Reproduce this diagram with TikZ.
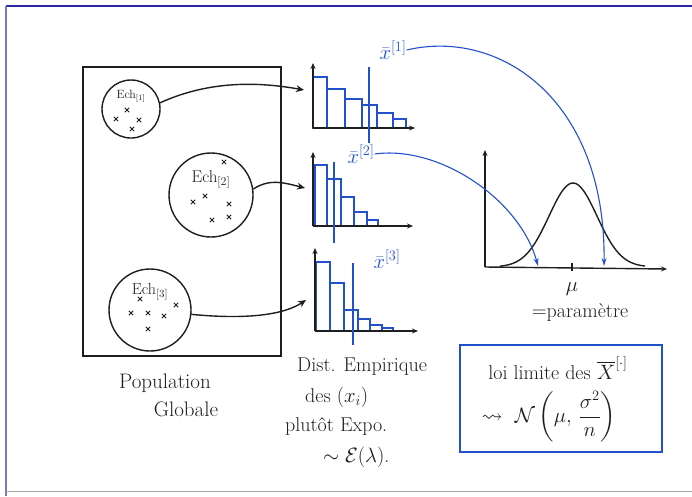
\documentclass[tikz,border=0pt]{standalone}
\usepackage{amsmath,amssymb}
\usetikzlibrary{arrows.meta}
\definecolor{pen}{RGB}{30,30,30}
\definecolor{bpen}{RGB}{35,80,205}
\definecolor{frameblue}{RGB}{40,40,160}
\definecolor{framelav}{RGB}{120,120,190}
\begin{document}
\begin{tikzpicture}[x=1pt,y=-1pt,
  ink/.style={line width=1.4pt,draw=pen},
  bink/.style={line width=1.1pt,draw=bpen},
  axis/.style={ink,-{Stealth[length=6pt,width=5pt]}},
  link/.style={ink,-{Stealth[length=8pt,width=7pt]}},
  blink/.style={bink,-{Stealth[length=8pt,width=5pt]}},
  smp/.style={circle,ink,inner sep=0pt},
  lab/.style={text=pen,inner sep=0pt},
  blab/.style={text=bpen,inner sep=0pt,font=\fontsize{22}{24}\selectfont},
  hand/.style={text=pen,inner sep=1pt,font=\fontsize{20}{22}\selectfont},
  xmark/.pic={\draw[line width=0.9pt,draw=pen] (-2.2,-2.2) -- (2.2,2.2) (-2.2,2.2) -- (2.2,-2.2);}]
\useasboundingbox (0,0) rectangle (692,496);
% page frame
\draw[frameblue,line width=1.2pt] (6,6) -- (692,6);
\draw[framelav,line width=1.6pt] (6,6) -- (6,496);
\draw[gray!70,line width=1pt] (6,491) -- (692,491);

% population
\draw[ink] (83,67) rectangle (281,356);
\node[smp,minimum size=58pt] (s1) at (131,109) {};
\node[smp,minimum size=84pt] (s2) at (211,195) {};
\node[smp,minimum size=82pt] (s3) at (150,310) {};
\node[lab,font=\fontsize{12}{14}\selectfont] (e1) at (131,96) {Ech$_{[1]}$};
\node[lab,font=\fontsize{17}{19}\selectfont] (e2) at (211,180) {Ech$_{[2]}$};
\node[lab,font=\fontsize{16}{18}\selectfont] (e3) at (150,292) {Ech$_{[3]}$};
% crosses
\foreach \p in {(127,110),(116,119),(139,120),(132,129),
                (224,162),(193,202),(205,196),(229,204),(212,220),(229,217),
                (140,299),(131,313),(148,313),(176,305),(164,316),(148,329)}
  \pic at \p {xmark};
\node[hand,font=\fontsize{21}{23}\selectfont] (pop1) at (165,383) {Population};
\node[hand,font=\fontsize{21}{23}\selectfont] (pop2) at (186,409) {Globale};

% histogram 1
\foreach \a/\b/\h in {313/327/77,327/345/89,345/362/99,362/377/105,377/393/113,393/406/119}
  \draw[bink] (\a,128) rectangle (\b,\h);
\draw[axis] (313,128) -- (313,63);
\draw[axis] (313,128) -- (415,128);
\draw[bink] (369,67) -- (369,143);
% histogram 2
\foreach \a/\b/\h in {315/327/165,327/341/179,341/354/197,354/367/212,367/378/220}
  \draw[bink] (\a,226) rectangle (\b,\h);
\draw[axis] (313,226) -- (313,152);
\draw[axis] (313,226) -- (413,226);
\draw[bink] (334,162) -- (334,243);
% histogram 3
\foreach \a/\b/\h in {316/330/262,330/344/283,344/358/310,358/370/319,370/382/325,382/393/328}
  \draw[bink] (\a,331) rectangle (\b,\h);
\draw[axis] (315,331) -- (315,248);
\draw[axis] (315,331) -- (418,331);
\draw[bink] (353,263) -- (353,345);

\node[blab] (xb1) at (393,50) {$\bar{x}^{[1]}$};
\node[blab] (xb2) at (361,154) {$\bar{x}^{[2]}$};
\node[blab] (xb3) at (387,259) {$\bar{x}^{[3]}$};

% links sample -> histogram
\coordinate (h1in) at (304,90);
\coordinate (h2in) at (305,188);
\coordinate (h3in) at (306,300);
\draw[link] (s1.12) .. controls (210,80) and (260,82) .. (h1in);
\draw[link] (s2.8) .. controls (270,178) and (285,183) .. (h2in);
\draw[link] (s3.-6) .. controls (250,320) and (285,314) .. (h3in);

% normal plot
\draw[axis] (485,267) -- (485,150);
\draw[axis] (485,267) -- (667,269);
\draw[ink] (572,263) -- (572,271);
\draw[ink] plot[smooth,domain=500:645,samples=60] (\x,{267-84*exp(-((\x-573)/24)^2/2)});
\node[lab,font=\fontsize{20}{22}\selectfont] (mu) at (572,289) {$\mu$};
\node[hand] (par) at (580,312) {$=$paramètre};
\coordinate (n1) at (604,266);
\coordinate (n2) at (538,266);
\draw[blink] (xb1.east) .. controls (500,28) and (606,100) .. (n1);
\draw[blink] (xb2.east) .. controls (440,145) and (520,200) .. (n2);

% empirical text
\node[hand,anchor=west] (d1) at (296,367) {Dist. Empirique};
\node[hand,anchor=west] (d2) at (304,397) {des $(x_i)$};
\node[hand,anchor=west] (d3) at (284,426) {plutôt Expo.};
\node[hand,anchor=west] (d4) at (322,457) {$\sim\mathcal{E}(\lambda)$.};

% limit box
\draw[bpen,line width=1.4pt] (460,345) rectangle (662,452);
\node[hand,font=\fontsize{20}{22}\selectfont] (lim) at (558,368) {loi limite des $\overline{X}^{[\cdot]}$};
\node[text=pen,font=\fontsize{21}{25}\selectfont,inner sep=0pt] (lawn) at (549,417) {$\rightsquigarrow\ \mathcal{N}\left(\mu,\,\dfrac{\sigma^2}{n}\right)$};
\end{tikzpicture}
\end{document}
